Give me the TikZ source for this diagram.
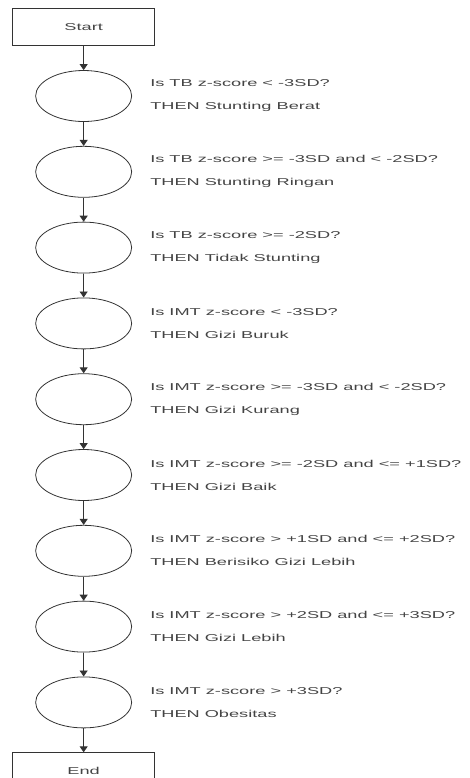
\documentclass[tikz,border=0pt]{standalone}
\usepackage{fontspec}
\newfontfamily\flowfont{Liberation Sans}[FakeStretch=1.82]
\usetikzlibrary{positioning,arrows.meta,shapes.geometric}

\definecolor{ink}{HTML}{333333}
\definecolor{txt}{HTML}{444444}

\tikzset{
  term/.style={draw=ink, line width=0.9pt, minimum width=142pt, minimum height=37pt, inner sep=0pt},
  test/.style={draw=ink, ellipse, line width=0.8pt, minimum width=96pt, minimum height=51pt, inner sep=0pt},
  rule/.style={anchor=west, align=left, inner sep=0pt},
}

\begin{document}
\begin{tikzpicture}[font=\flowfont\fontsize{10}{23}\selectfont, text=txt,
    >={Triangle[length=6pt,width=8pt]}]
    \useasboundingbox (0,0) rectangle (469pt,-778pt);

    \matrix (chart) [matrix anchor=north west, inner sep=0pt, row sep=24pt] at (12pt,-8pt)
    {
    \node[term](start) {Start}; \\
    \node[test](e1) {}; \\
    \node[test](e2) {}; \\
    \node[test](e3) {}; \\
    \node[test](e4) {}; \\
    \node[test](e5) {}; \\
    \node[test](e6) {}; \\
    \node[test](e7) {}; \\
    \node[test](e8) {}; \\
    \node[test](e9) {}; \\
    \node[term](end) {End}; \\
    };

    % rules beside each test
    \node[rule, right=18pt of e1] (r1) {Is TB z-score < -3SD?\\THEN Stunting Berat};
    \node[rule, right=18pt of e2] (r2) {Is TB z-score >= -3SD and < -2SD?\\THEN Stunting Ringan};
    \node[rule, right=18pt of e3] (r3) {Is TB z-score >= -2SD?\\THEN Tidak Stunting};
    \node[rule, right=18pt of e4] (r4) {Is IMT z-score < -3SD?\\THEN Gizi Buruk};
    \node[rule, right=18pt of e5] (r5) {Is IMT z-score >= -3SD and < -2SD?\\THEN Gizi Kurang};
    \node[rule, right=18pt of e6] (r6) {Is IMT z-score >= -2SD and <= +1SD?\\THEN Gizi Baik};
    \node[rule, right=18pt of e7] (r7) {Is IMT z-score > +1SD and <= +2SD?\\THEN Berisiko Gizi Lebih};
    \node[rule, right=18pt of e8] (r8) {Is IMT z-score > +2SD and <= +3SD?\\THEN Gizi Lebih};
    \node[rule, right=18pt of e9] (r9) {Is IMT z-score > +3SD?\\THEN Obesitas};

    \draw [->,ink,line width=0.9pt] (start) -- (e1) ;
    \draw [->,ink,line width=0.9pt] (e1) -- (e2) ;
    \draw [->,ink,line width=0.9pt] (e2) -- (e3) ;
    \draw [->,ink,line width=0.9pt] (e3) -- (e4) ;
    \draw [->,ink,line width=0.9pt] (e4) -- (e5) ;
    \draw [->,ink,line width=0.9pt] (e5) -- (e6) ;
    \draw [->,ink,line width=0.9pt] (e6) -- (e7) ;
    \draw [->,ink,line width=0.9pt] (e7) -- (e8) ;
    \draw [->,ink,line width=0.9pt] (e8) -- (e9) ;
    \draw [->,ink,line width=0.9pt] (e9) -- (end) ;
\end{tikzpicture}
\end{document}
